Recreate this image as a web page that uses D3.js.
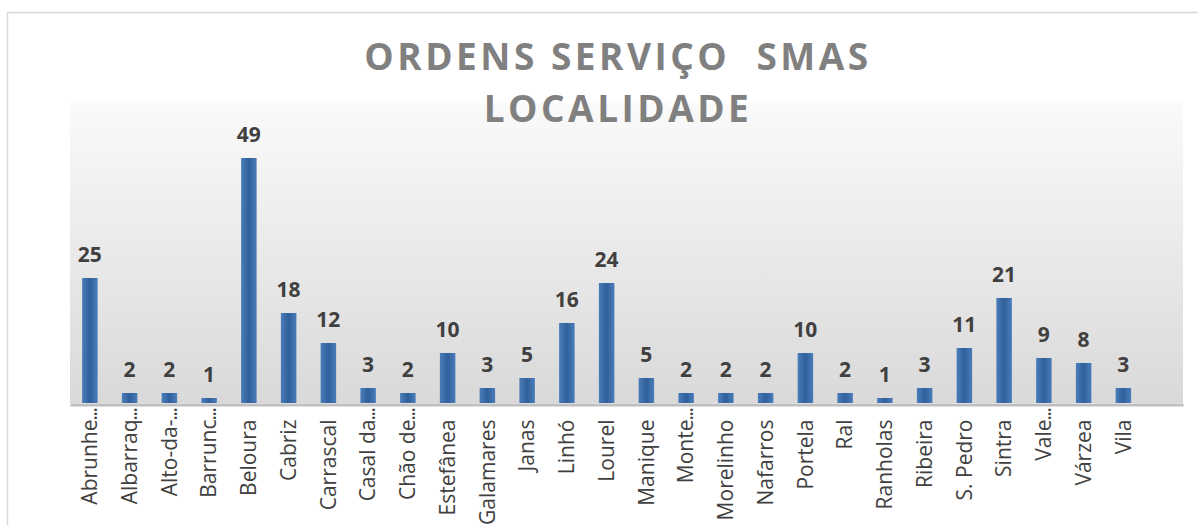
<!DOCTYPE html>
<html>
<head>
<meta charset="utf-8">
<script src="https://cdn.jsdelivr.net/npm/d3@7"></script>
<style>
  body { margin: 0; background: #fff; }
  svg { display: block; }
</style>
</head>
<body>
<div id="chart"></div>
<script>
// data
const titleLines = ["ORDENS SERVIÇO  SMAS", "LOCALIDADE"];
const categories = ["Abrunhe...", "Albarraq...", "Alto-da-...", "Barrunc...", "Beloura", "Cabriz",
  "Carrascal", "Casal da...", "Chão de...", "Estefânea", "Galamares", "Janas", "Linhó", "Lourel",
  "Manique", "Monte...", "Morelinho", "Nafarros", "Portela", "Ral", "Ranholas", "Ribeira",
  "S. Pedro", "Sintra", "Vale...", "Várzea", "Vila"];
const values = [25, 2, 2, 1, 49, 18, 12, 3, 2, 10, 3, 5, 16, 24, 5, 2, 2, 2, 10, 2, 1, 3, 11, 21, 9, 8, 3];
const yDomain = [0, 60];

const width = 1198;
const height = 525;
const plot = { left: 70, right: 1183, top: 103, bottom: 403 };

const svg = d3.select("#chart")
    .append("svg")
    .attr("width", width)
    .attr("height", height);

const defs = svg.append("defs");

// plot background gradient
const bg = defs.append("linearGradient")
    .attr("id", "plot-bg")
    .attr("x1", 0).attr("y1", 0).attr("x2", 0).attr("y2", 1);
bg.append("stop").attr("offset", "0%").attr("stop-color", "#fafafa");
bg.append("stop").attr("offset", "100%").attr("stop-color", "#d9d9d9");

// bar gradient, darker in the middle
const barGrad = defs.append("linearGradient")
    .attr("id", "bar-fill")
    .attr("x1", 0).attr("y1", 0).attr("x2", 1).attr("y2", 0);
barGrad.append("stop").attr("offset", "0%").attr("stop-color", "#4a7dba");
barGrad.append("stop").attr("offset", "50%").attr("stop-color", "#30609a");
barGrad.append("stop").attr("offset", "100%").attr("stop-color", "#4a7dba");

// outer chart border (runs off the page right and bottom)
svg.append("rect")
    .attr("x", 7.5)
    .attr("y", 12.5)
    .attr("width", width + 20)
    .attr("height", height + 20)
    .attr("fill", "none")
    .attr("stroke", "#d9d9d9")
    .attr("stroke-width", 1.5);

// the plot has one empty slot after the last category
const slots = categories.concat([""]);

const x = d3.scaleBand()
    .domain(slots)
    .range([plot.left, plot.right])
    .paddingInner(0.61)
    .paddingOuter(0.305);

const y = d3.scaleLinear()
    .domain(yDomain)
    .range([plot.bottom, plot.top]);

svg.append("rect")
    .attr("x", plot.left)
    .attr("y", y(yDomain[1]))
    .attr("width", plot.right - plot.left)
    .attr("height", y(yDomain[0]) - y(yDomain[1]))
    .attr("fill", "url(#plot-bg)");

// bars
svg.append("g")
    .selectAll("rect")
    .data(values)
    .enter()
    .append("rect")
    .attr("x", (d, i) => x(categories[i]))
    .attr("y", d => y(d))
    .attr("width", x.bandwidth())
    .attr("height", d => y(0) - y(d))
    .attr("fill", "url(#bar-fill)");

// value labels
svg.append("g")
    .selectAll("text")
    .data(values)
    .enter()
    .append("text")
    .attr("x", (d, i) => x(categories[i]) + x.bandwidth() / 2)
    .attr("y", d => y(d) - 16)
    .attr("text-anchor", "middle")
    .style("font-family", "'Open Sans', sans-serif")
    .style("font-weight", "bold")
    .style("font-size", "21px")
    .attr("fill", "#404040")
    .text(d => d);

// x axis
const xAxis = svg.append("g")
    .attr("transform", `translate(0,${plot.bottom + 1.5})`)
    .call(d3.axisBottom(x).tickSize(0).tickPadding(0)
        .tickFormat(d => d.replace("...", "")));

xAxis.select(".domain")
    .attr("stroke", "#bfbfbf")
    .attr("stroke-width", 3);

xAxis.selectAll(".tick text")
    .attr("transform", "rotate(-90)")
    .attr("text-anchor", "end")
    .attr("x", -15)
    .attr("y", 0)
    .attr("dy", "0.35em")
    .style("font-family", "'Open Sans', sans-serif")
    .style("font-size", "21px")
    .attr("fill", "#404040");

// truncated names: the dots sit above the label start
xAxis.selectAll(".tick")
    .filter(d => d.endsWith("..."))
    .append("text")
    .attr("transform", "rotate(-90)")
    .attr("text-anchor", "start")
    .attr("x", -16)
    .attr("y", 0)
    .attr("dy", "0.35em")
    .style("font-family", "'Open Sans', sans-serif")
    .style("font-size", "21px")
    .style("letter-spacing", "-1.5px")
    .attr("fill", "#404040")
    .text("...");

// title
svg.append("g")
    .selectAll("text")
    .data(titleLines)
    .enter()
    .append("text")
    .attr("x", 618)
    .attr("y", (d, i) => 70 + i * 52)
    .attr("text-anchor", "middle")
    .style("font-family", "'Open Sans', sans-serif")
    .style("font-weight", "bold")
    .style("font-size", "37px")
    .style("letter-spacing", "3.5px")
    .style("white-space", "pre")
    .attr("fill", "#808080")
    .text(d => d);
</script>
</body>
</html>
